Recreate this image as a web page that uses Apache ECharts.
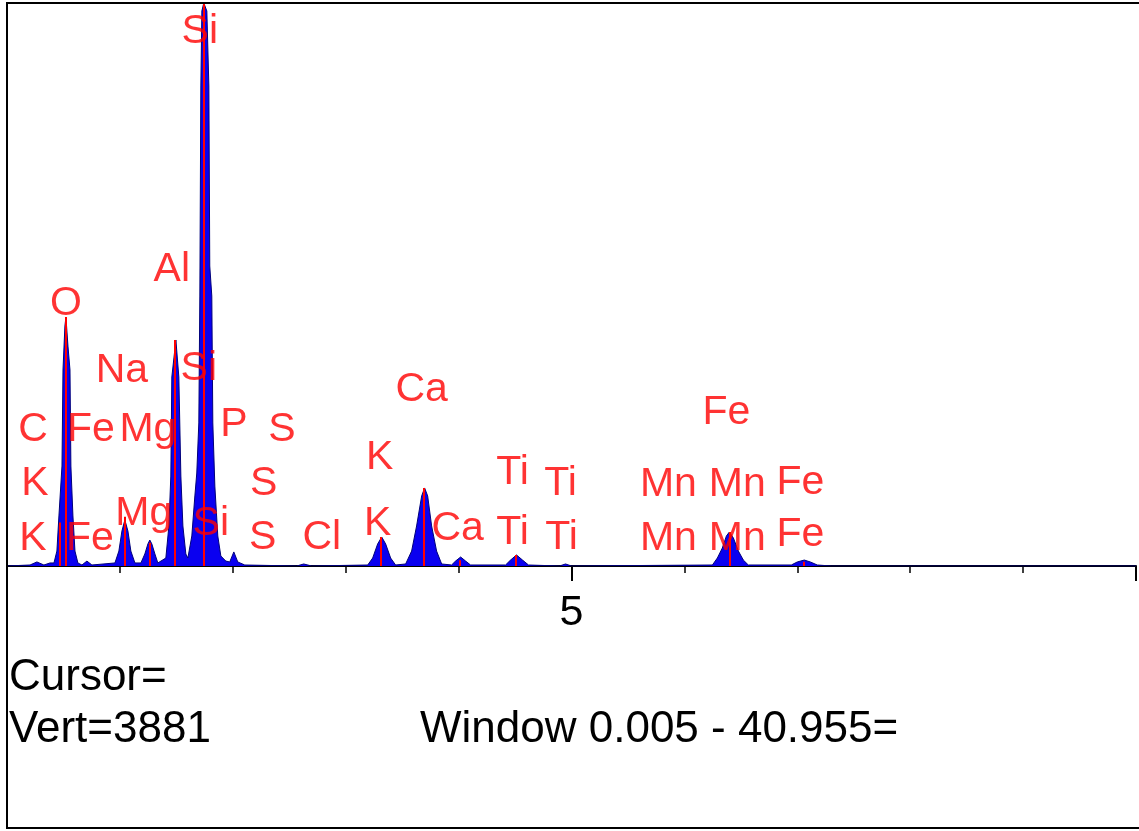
<!DOCTYPE html>
<html>
<head>
<meta charset="utf-8">
<script src="https://cdn.jsdelivr.net/npm/echarts@6/dist/echarts.min.js"></script>
<style>
  html, body { margin: 0; padding: 0; background: #fff; }
  #chart { width: 1139px; height: 831px; }
</style>
</head>
<body>
<div id="chart"></div>
<script>
// spectrum trace: energy (keV) and counts
const specKeV = [
  0, 0.204, 0.265, 0.327, 0.381, 0.416, 0.442, 0.460, 0.487, 0.496, 0.513, 0.522, 0.540, 0.558, 0.566, 0.584, 0.602, 0.628,
  0.664, 0.708, 0.752, 0.956, 0.991, 1.018, 1.044, 1.071, 1.097, 1.133,
  1.186, 1.221, 1.248, 1.265, 1.283, 1.310, 1.336,
  1.407, 1.434, 1.451, 1.460, 1.496, 1.522, 1.540, 1.558, 1.584,
  1.602, 1.637, 1.664, 1.681, 1.699, 1.708, 1.717, 1.726, 1.743, 1.770, 1.788, 1.796, 1.814, 1.823, 1.841, 1.867, 1.894, 1.938,
  1.973, 2.009, 2.044, 2.106, 2.566, 2.628, 2.699,
  3.195, 3.239, 3.283, 3.319, 3.354, 3.398, 3.442,
  3.531, 3.584, 3.628, 3.673, 3.699, 3.726, 3.761, 3.805, 3.850,
  3.938, 3.973, 4.018, 4.062, 4.106,
  4.416, 4.460, 4.513, 4.566, 4.619, 4.894, 4.947, 5.000,
  6.248, 6.292, 6.336, 6.372, 6.398, 6.434, 6.478, 6.522, 6.566,
  6.947, 7.000, 7.062, 7.115, 7.177, 7.300, 10
]
const specCounts = [
  0, 7, 28, 7, 21, 21, 103, 345, 689, 1351, 1654, 1716, 1516, 1351, 689, 345, 103, 21,
  7, 34, 7, 21, 103, 241, 317, 241, 103, 21,
  21, 83, 152, 179, 152, 83, 21,
  55, 276, 620, 1303, 1558, 1303, 620, 276, 83,
  55, 207, 483, 641, 986, 1861, 3309, 3826, 3881, 3826, 3309, 2068, 1861, 986, 551, 207, 69, 34,
  28, 97, 28, 7, 0, 14, 0,
  7, 55, 152, 200, 152, 55, 7,
  14, 103, 276, 483, 538, 483, 276, 103, 14,
  7, 34, 62, 34, 7,
  7, 41, 76, 41, 7, 0, 14, 0,
  7, 55, 124, 207, 234, 193, 103, 41, 7,
  7, 28, 41, 28, 7, 0, 0
]

// red KLM marker lines: energy (keV) and marker height (counts)
const markerKeV = [0.47, 0.522, 1.044, 1.265, 1.49, 1.743, 3.313, 3.69, 4.012, 4.51, 6.40, 7.06]
const markerCounts = [300, 1716, 340, 160, 1558, 3881, 200, 538, 40, 76, 234, 30]

// element labels: name, energy (keV), height (counts)
const labelNames = [
  'Si', 'Al', 'O', 'Na', 'Si', 'Ca', 'Fe',
  'C', 'Fe', 'Mg', 'P', 'S',
  'K', 'S', 'K', 'Ti', 'Ti', 'Mn', 'Mn', 'Fe',
  'K', 'Fe', 'Mg', 'Si', 'S', 'Cl', 'K', 'Ca', 'Ti', 'Ti', 'Mn', 'Mn', 'Fe'
]
const labelKeV = [
  1.708, 1.460, 0.522, 1.018, 1.699, 3.673, 6.372,
  0.230, 0.743, 1.248, 2.009, 2.434,
  0.248, 2.274, 3.301, 4.478, 4.903, 5.858, 6.469, 7.027,
  0.230, 0.735, 1.212, 1.805, 2.265, 2.788, 3.283, 3.991, 4.478, 4.912, 5.858, 6.469, 7.027
]
const labelCounts = [
  3695, 2054, 1820, 1358, 1372, 1227, 1068,
  951, 951, 951, 986, 951,
  579, 579, 758, 655, 579, 572, 572, 586,
  200, 200, 372, 303, 207, 207, 303, 269, 241, 207, 200, 200, 227
]

const vertMax = 3881
const footerCursor = 'Cursor='
const footerVert = 'Vert=' + vertMax
const footerWindow = 'Window 0.005 - 40.955='

const font = 'Liberation Sans, Arial, sans-serif'
const chart = echarts.init(document.getElementById('chart'))

chart.setOption({
  animation: false,
  backgroundColor: '#fff',
  grid: {left: 7, right: 2, top: 3, bottom: 265},
  xAxis: {
    type: 'value',
    min: 0,
    max: 10,
    interval: 5,
    axisLine: {lineStyle: {color: '#000', width: 2}},
    axisTick: {length: 15, lineStyle: {color: '#000', width: 2}},
    minorTick: {show: true, splitNumber: 5, length: 7, lineStyle: {color: '#000', width: 1.5}},
    splitLine: {show: false},
    minorSplitLine: {show: false},
    axisLabel: {
      color: '#000',
      fontSize: 43,
      fontFamily: font,
      margin: 26,
      formatter: v => (v === 5 ? '5' : '')
    }
  },
  yAxis: {
    type: 'value',
    min: 0,
    max: vertMax,
    show: false
  },
  graphic: [
    // frame
    {type: 'rect', shape: {x: 7, y: 3, width: 1150, height: 825}, style: {fill: 'none', stroke: '#000', lineWidth: 2}, z: 100},
    {type: 'text', left: 9, top: 656, style: {text: footerCursor, font: '44px ' + font, fill: '#000'}},
    {type: 'text', left: 9, top: 708, style: {text: footerVert, font: '44px ' + font, fill: '#000'}},
    {type: 'text', left: 420, top: 708, style: {text: footerWindow, font: '44px ' + font, fill: '#000'}}
  ],
  series: [
    {
      name: 'spectrum',
      type: 'line',
      symbol: 'none',
      data: specKeV.map((k, i) => [k, specCounts[i]]),
      lineStyle: {color: '#00007a', width: 1},
      areaStyle: {color: '#0a00f0', opacity: 1},
      markLine: {
        silent: true,
        symbol: 'none',
        label: {show: false},
        lineStyle: {color: '#ff0000', width: 2, type: 'solid'},
        data: markerKeV.map((k, i) => [{coord: [k, 0]}, {coord: [k, markerCounts[i]]}])
      },
      z: 2
    },
    {
      name: 'labels',
      type: 'scatter',
      symbolSize: 1,
      itemStyle: {color: 'rgba(0,0,0,0)'},
      data: labelKeV.map((k, i) => ({name: labelNames[i], value: [k, labelCounts[i]]})),
      label: {
        show: true,
        position: 'inside',
        offset: [0, 2],
        formatter: p => p.name,
        color: '#ff0000',
        fontSize: 41,
        fontFamily: font
      },
      z: 5
    }
  ]
})
</script>
</body>
</html>
